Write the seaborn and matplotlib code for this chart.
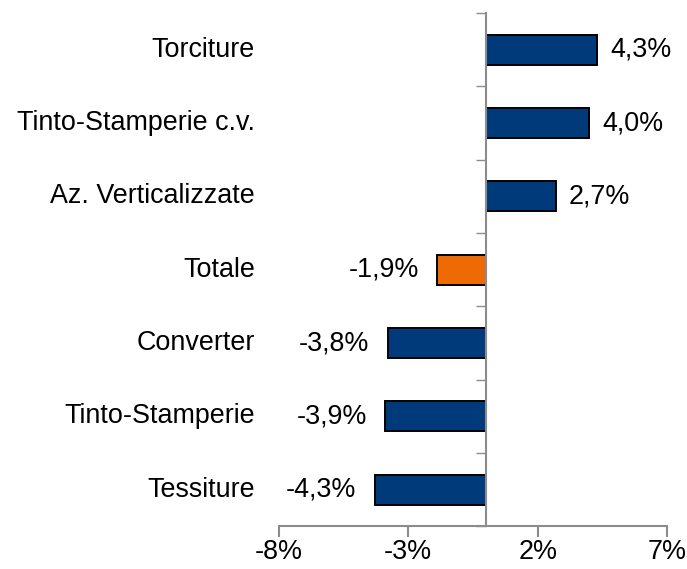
import matplotlib
matplotlib.use("Agg")
import matplotlib.pyplot as plt
import matplotlib.transforms as mtransforms
import seaborn as sns
import numpy as np

# ── Data ───────────────────────────────────────────────────────────────────────
categories = ["Torciture", "Tinto-Stamperie c.v.", "Az. Verticalizzate", "Totale",
              "Converter", "Tinto-Stamperie", "Tessiture"]
values = [4.3, 4.0, 2.7, -1.9, -3.8, -3.9, -4.3]
xticks = [-8, -3, 2, 7]

BLUE = "#003A7A"
ORANGE = "#EE6A05"
GREY = "#8C8C8C"
colors = [ORANGE if c == "Totale" else BLUE for c in categories]

sns.set_style("white")
plt.rcParams["font.family"] = ["Liberation Sans", "DejaVu Sans"]
FS = 19.4

fig, ax = plt.subplots(figsize=(6.87, 5.69), dpi=100)
fig.subplots_adjust(left=0.406, right=0.971, bottom=0.075, top=0.977)

sns.barplot(x=values, y=categories, hue=categories, palette=colors, legend=False,
            orient="h", width=0.41, saturation=1, edgecolor="black", linewidth=1.4, ax=ax)

ax.set_xlim(-8, 7)
ax.set_ylim(len(categories) - 0.5, -0.5)
ax.set_xticks(xticks)
ax.set_xticklabels([f"{t}%" for t in xticks], fontsize=FS, color="black")
ax.set_yticks(np.arange(len(categories) + 1) - 0.5)
ax.set_yticklabels([])
ax.set_xlabel("")
ax.set_ylabel("")

# spines: y axis sits on x = 0
for s in ["top", "right"]:
    ax.spines[s].set_visible(False)
ax.spines["left"].set_position(("data", 0))
for s in ["left", "bottom"]:
    ax.spines[s].set_color(GREY)
    ax.spines[s].set_linewidth(1.5)
ax.tick_params(axis="x", bottom=True, direction="out", length=8, width=1.5, color=GREY, pad=1)
ax.tick_params(axis="y", left=True, direction="out", length=7, width=1.0, color=GREY)

# category labels at the left edge of the plot
trans = mtransforms.blended_transform_factory(ax.transAxes, ax.transData)
for i, c in enumerate(categories):
    ax.text(-0.062, i, c, transform=trans, ha="right", va="center", fontsize=FS, color="black")

# value labels
for i, v in enumerate(values):
    lab = f"{v:.1f}%".replace(".", ",")
    if v >= 0:
        ax.text(v + 0.5, i, lab, ha="left", va="center", fontsize=FS, color="black")
    else:
        ax.text(v - 0.7, i, lab, ha="right", va="center", fontsize=FS, color="black")

plt.savefig("out.png", dpi=100)
